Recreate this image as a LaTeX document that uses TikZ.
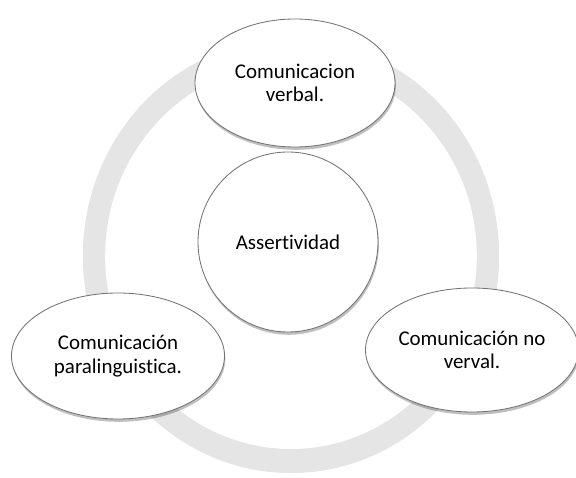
\documentclass[tikz,border=0pt]{standalone}
\usepackage{fontspec}
\setmainfont{Carlito}[Ligatures=NoCommon]
\usetikzlibrary{shapes,shadows,positioning}

\begin{document}
\begin{tikzpicture}[
  bubble/.style={ellipse,draw=black!55,line width=.6pt,fill=white,inner sep=0pt,align=center,
    font=\fontsize{14.9}{16.5}\selectfont,
    drop shadow={shadow xshift=.6pt,shadow yshift=-2pt,opacity=.25,fill=black}},
  ring/.style={line width=15.6pt,draw=gray!20}]
  \useasboundingbox (0,0) rectangle (14.4,11.95);

  \coordinate (c) at (7.275,5.575);
  \draw[ring,draw=black,opacity=.10] ([yshift=-1.5pt]c) ellipse (4.925 and 5.125);
  \draw[ring] (c) ellipse (4.925 and 5.125);

  \node[bubble,minimum width=5cm,minimum height=3.2cm]     (verbal)  at (7.375,9.875) {Comunicacion\\verbal.};
  \node[bubble,minimum width=4.5cm,minimum height=4.5cm]   (asert)   at (7.2,5.9)     {Assertividad};
  \node[bubble,minimum width=5.325cm,minimum height=3.15cm] (para)   at (2.95,3.05)   {Comunicación\\paralinguistica.};
  \node[bubble,minimum width=5.325cm,minimum height=3.1cm]  (noverb) at (11.8,3.2)    {Comunicación no\\verval.};
\end{tikzpicture}
\end{document}
